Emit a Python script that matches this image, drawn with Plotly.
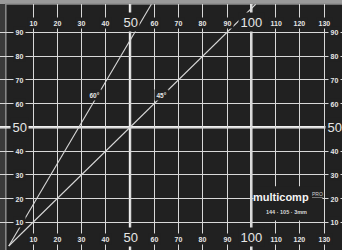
import plotly.graph_objects as go

# ---- data ----
x_ticks = [10, 20, 30, 40, 50, 60, 70, 80, 90, 100, 110, 120, 130]
y_ticks = [10, 20, 30, 40, 50, 60, 70, 80, 90]
major_x = [50, 100]
major_y = [50]
x_labels = [str(v) for v in x_ticks]
y_labels = [str(v) for v in y_ticks]

line45_x = [0, 101.8]
line45_y = [0, 101.8]
line60_x = [0, 58.8]
line60_y = [0, 101.8]
angle_labels = ["60°", "45°"]
angle_label_x = [35.3, 63.0]
angle_label_y = [63.6, 63.6]

brand = "multicomp"
brand_sub = "PRO"
size_text = "144 · 105 · 3mm"

MAT = "#212121"
LINE = "#d8d8d8"
TXT = "#e6e6e6"
FONT = "Liberation Sans Narrow, Liberation Sans, Arial, sans-serif"

XR = [-3.61, 137.4]
YR = [-1.68, 101.9]

fig = go.Figure()

fig.add_trace(go.Scatter(x=line45_x, y=line45_y, mode="lines",
                         line=dict(color=LINE, width=1.1), hoverinfo="skip"))
fig.add_trace(go.Scatter(x=line60_x, y=line60_y, mode="lines",
                         line=dict(color=LINE, width=1.1), hoverinfo="skip"))

shapes = []
# mat body with border (below grid)
shapes.append(dict(type="rect", xref="paper", yref="paper", x0=0.017, x1=1.02,
                   y0=-0.02, y1=1.0, fillcolor=MAT,
                   line=dict(color="#8c8c8c", width=1.5), layer="below"))
# thick major lines
for v in major_x:
    shapes.append(dict(type="line", xref="x", yref="paper", x0=v, x1=v, y0=0, y1=1,
                       line=dict(color="#f0f0f0", width=2.4), layer="between"))
for v in major_y:
    shapes.append(dict(type="line", xref="paper", yref="y", x0=0, x1=1, y0=v, y1=v,
                       line=dict(color="#f0f0f0", width=2.4), layer="between"))
# logo mask
shapes.append(dict(type="rect", xref="x", yref="y", x0=100.9, x1=129.3, y0=10.7, y1=25.2,
                   fillcolor=MAT, line=dict(width=0), layer="above"))

ann = []
def lab(x, y, t, size, bold=True):
    ann.append(dict(x=x, y=y, xref="x", yref="y",
                    text=("<b>" + t + "</b>") if bold else t, showarrow=False,
                    font=dict(family=FONT, size=size, color=TXT),
                    bgcolor=MAT, borderpad=1.5,
                    xanchor="center", yanchor="middle"))

for v, t in zip(x_ticks, x_labels):
    big = v in major_x
    lab(v, 94.4 if big else 93.9, t, 13 if big else 7, not big)
    lab(v, 3.6 if big else 2.95, t, 13 if big else 7, not big)
for v, t in zip(y_ticks, y_labels):
    big = v in major_y
    lab(4.3, v, t, 13 if big else 7, not big)
    lab(134.2, v, t, 13 if big else 7, not big)

for x, y, t in zip(angle_label_x, angle_label_y, angle_labels):
    lab(x, y, t, 6.5)

ann.append(dict(x=112.3, y=20.6, xref="x", yref="y", text="<b>" + brand + "</b>",
                showarrow=False, font=dict(family="Liberation Sans, Arial, sans-serif",
                                           size=11, color="#f4f4f4"),
                xanchor="center", yanchor="middle"))
ann.append(dict(x=127.2, y=21.9, xref="x", yref="y", text="<u>" + brand_sub + "</u>",
                showarrow=False, font=dict(family="Liberation Sans, Arial, sans-serif",
                                           size=5, color="#d0d0d0"),
                xanchor="center", yanchor="middle"))
ann.append(dict(x=114.6, y=14.3, xref="x", yref="y", text="<b>" + size_text + "</b>",
                showarrow=False, font=dict(family="Liberation Sans, Arial, sans-serif",
                                           size=5.5, color="#d8d8d8"),
                xanchor="center", yanchor="middle"))

fig.update_layout(
    width=342, height=250,
    margin=dict(l=0, r=0, t=4, b=0),
    paper_bgcolor="#9a9a9a",
    plot_bgcolor="#3a3a3a",
    showlegend=False,
    shapes=shapes,
    annotations=ann,
    xaxis=dict(range=XR, tickvals=x_ticks, showticklabels=False, ticks="",
               showgrid=True, gridcolor=LINE, gridwidth=1.2, zeroline=False,
               showline=False, fixedrange=True),
    yaxis=dict(range=YR, tickvals=y_ticks, showticklabels=False, ticks="",
               showgrid=True, gridcolor=LINE, gridwidth=1.2, zeroline=False,
               showline=False, fixedrange=True),
)

fig.write_html("out.html", config={"displayModeBar": False},
               post_script="document.body.style.margin='0';document.body.style.overflow='hidden';")
